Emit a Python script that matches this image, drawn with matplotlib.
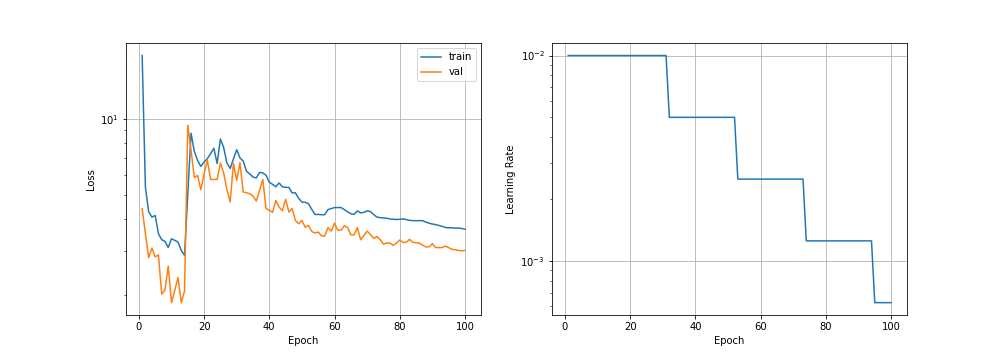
import matplotlib
matplotlib.use("Agg")
import matplotlib.pyplot as plt

# values, epochs 1..100
epochs = list(range(1, 101))

train_loss = [
    17.8, 5.37, 4.28, 4.08, 4.14, 3.51, 3.32, 3.27, 3.09, 3.35,
    3.30, 3.25, 3.01, 2.88, 5.04, 8.77, 7.43, 6.84, 6.48, 6.74,
    6.95, 7.28, 7.64, 6.65, 8.31, 7.70, 6.68, 6.36, 6.93, 7.54,
    7.00, 6.80, 6.20, 6.05, 5.88, 5.83, 6.13, 6.11, 5.97, 5.61,
    5.50, 5.38, 5.57, 5.38, 5.35, 5.35, 5.09, 5.09, 4.84, 4.68,
    4.67, 4.61, 4.38, 4.18, 4.18, 4.17, 4.17, 4.37, 4.41, 4.45,
    4.45, 4.45, 4.37, 4.28, 4.21, 4.18, 4.32, 4.24, 4.26, 4.32,
    4.29, 4.18, 4.08, 4.06, 4.05, 4.04, 4.01, 4.00, 3.99, 4.00,
    4.01, 3.99, 3.96, 3.95, 3.95, 3.95, 3.95, 3.90, 3.86, 3.83,
    3.81, 3.78, 3.75, 3.71, 3.70, 3.70, 3.69, 3.69, 3.68, 3.65,
]

val_loss = [
    4.41, 3.51, 2.82, 3.08, 2.84, 2.89, 2.02, 2.10, 2.61, 1.87,
    2.09, 2.35, 1.87, 2.08, 9.42, 7.50, 5.85, 5.96, 5.24, 6.05,
    6.84, 5.75, 5.75, 5.75, 6.68, 6.10, 5.24, 4.68, 6.65, 5.70,
    6.70, 5.13, 5.09, 5.05, 4.95, 4.72, 5.20, 5.75, 4.41, 4.34,
    4.26, 4.75, 4.47, 4.32, 4.80, 4.27, 4.41, 3.96, 3.84, 3.96,
    3.72, 3.78, 3.58, 3.53, 3.56, 3.44, 3.43, 3.71, 3.59, 3.86,
    3.62, 3.62, 3.77, 3.71, 3.47, 3.47, 3.71, 3.32, 3.45, 3.59,
    3.48, 3.36, 3.42, 3.32, 3.19, 3.22, 3.22, 3.15, 3.22, 3.31,
    3.24, 3.24, 3.33, 3.24, 3.23, 3.22, 3.16, 3.11, 3.11, 3.20,
    3.09, 3.09, 3.09, 3.13, 3.09, 3.04, 3.03, 3.01, 3.00, 3.01,
]

# step schedule: lr halves after epochs 31, 52, 73, 94
lr_values = [0.01] * 31 + [0.005] * 21 + [0.0025] * 21 + [0.00125] * 21 + [0.000625] * 6

fig = plt.figure(figsize=(14, 5), dpi=72)
plt.subplots_adjust(bottom=0.125)

# Subplot 1: loss curves
plt.subplot(1, 2, 1)
plt.plot(epochs, train_loss, label='train')
plt.plot(epochs, val_loss, label='val')
plt.yscale('log')
plt.xlabel('Epoch')
plt.ylabel('Loss')
plt.legend()
plt.grid(True)

# Subplot 2: learning rate
plt.subplot(1, 2, 2)
plt.plot(epochs, lr_values)
plt.yscale('log')
plt.xlabel('Epoch')
plt.ylabel('Learning Rate')
plt.grid(True)

plt.savefig('out.png', dpi=72)
